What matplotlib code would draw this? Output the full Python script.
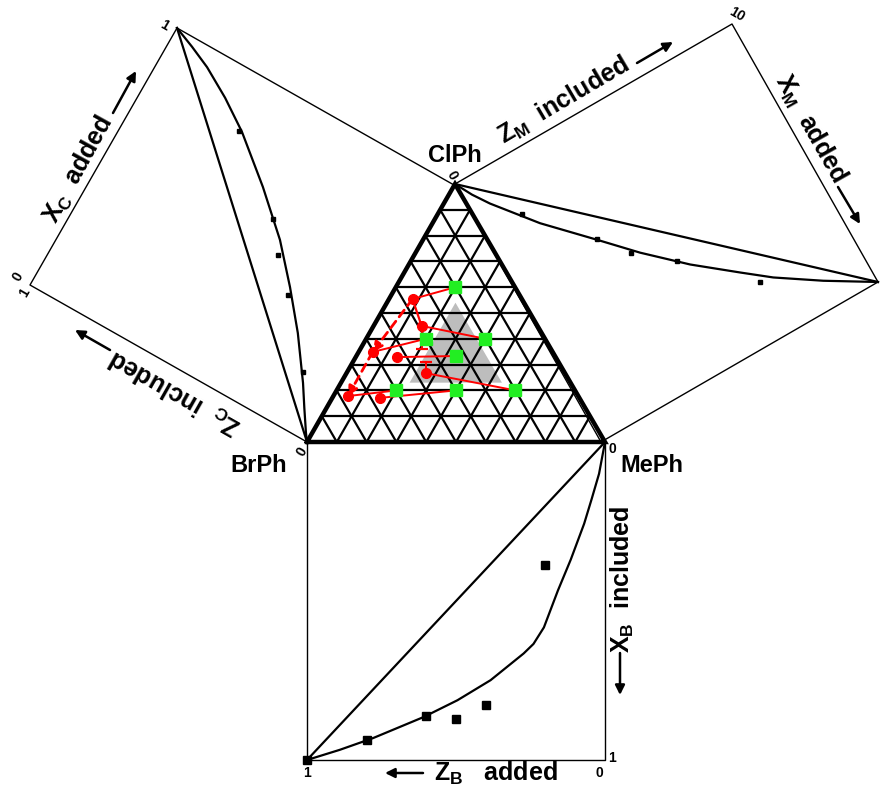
import numpy as np
import matplotlib.pyplot as plt
from matplotlib.transforms import Affine2D

plt.rcParams['font.family'] = ['Liberation Sans', 'DejaVu Sans']
plt.rcParams['mathtext.fontset'] = 'custom'
plt.rcParams['mathtext.rm'] = 'Liberation Sans:bold'
plt.rcParams['mathtext.it'] = 'Liberation Sans:bold'
plt.rcParams['mathtext.bf'] = 'Liberation Sans:bold'

# side panels, (Z, X) pairs
left_z = [0.67, 0.44, 0.37, 0.28, 0.12]
left_x = [0.8, 0.6, 0.5, 0.4, 0.2]
left_curve_z = [0, 0.017, 0.06, 0.103, 0.195, 0.288, 0.389, 0.518, 0.661, 0.76, 0.857, 0.93, 1]
left_curve_x = [0, 0.025, 0.095, 0.167, 0.305, 0.427, 0.549, 0.676, 0.803, 0.875, 0.935, 0.97, 1]

right_z = [0.138, 0.302, 0.372, 0.484, 0.680]
right_x = [0.2, 0.4, 0.5, 0.6, 0.8]
right_curve_z = [0, 0.03, 0.065, 0.171, 0.301, 0.398, 0.516, 0.640, 0.722, 0.853, 1]
right_curve_x = [0, 0.06, 0.116, 0.258, 0.403, 0.513, 0.632, 0.740, 0.810, 0.904, 1]

bottom_z = [0.2, 0.4, 0.5, 0.6, 0.8, 1.0]
bottom_x = [0.386, 0.828, 0.871, 0.862, 0.937, 1.0]
bottom_curve_z = [0, 0.02, 0.045, 0.07, 0.115, 0.158, 0.205, 0.24, 0.273, 0.384, 0.495, 0.609, 0.778, 0.89, 1]
bottom_curve_x = [0, 0.10, 0.18, 0.257, 0.37, 0.467, 0.583, 0.635, 0.665, 0.749, 0.812, 0.865, 0.931, 0.968, 1]

# ternary: fractions of MePh (m) and ClPh (c), BrPh = 1 - m - c
green_m = [0.2, 0.2, 0.4, 1/3, 0.2, 0.4, 0.6]
green_c = [0.6, 0.4, 0.4, 1/3, 0.2, 0.2, 0.2]
red_m = [0.079, 0.161, 0.047, 0.137, 0.266, 0.049, 0.160]
red_c = [0.554, 0.450, 0.349, 0.329, 0.267, 0.178, 0.171]
tie_to = [0, 2, 1, 3, 6, 4, 5]
path_idx = [0, 2, 5]          # dashed path through red points
err_idx = [1, 4]               # red points with error bars
err_dc = [-0.09, 0.045]
lower_bound = 0.23             # shaded region

fig = plt.figure(figsize=(8.83, 7.85), dpi=100)
ax = fig.add_axes([0, 0, 1, 1])
ax.set_xlim(0, 883)
ax.set_ylim(785, 0)
ax.axis('off')

tern = Affine2D.from_values(298, 0, 148, -258, 307, 442)
panels = {
    'left': Affine2D.from_values(-277, -157, 147, -257, 307, 442),
    'right': Affine2D.from_values(277, -160, 146, 258, 455, 184),
    'bottom': Affine2D.from_values(-298, 0, 0, 318, 605, 442),
}
panel_data = {
    'left': (left_z, left_x, left_curve_z, left_curve_x, 3.5),
    'right': (right_z, right_x, right_curve_z, right_curve_x, 3.5),
    'bottom': (bottom_z, bottom_x, bottom_curve_z, bottom_curve_x, 6),
}

for name, aff in panels.items():
    z, x, cz, cx, ms = panel_data[name]
    box = aff.transform([[0, 0], [1, 0], [1, 1], [0, 1], [0, 0]])
    ax.plot(box[:, 0], box[:, 1], color='k', lw=1.0)
    diag = aff.transform([[0, 0], [1, 1]])
    ax.plot(diag[:, 0], diag[:, 1], color='k', lw=1.6)
    cur = aff.transform(np.column_stack([cz, cx]))
    ax.plot(cur[:, 0], cur[:, 1], color='k', lw=1.6, solid_joinstyle='round')
    pts = aff.transform(np.column_stack([z, x]))
    ax.plot(pts[:, 0], pts[:, 1], 's', color='k', ms=ms, ls='none')

# shaded region
lb = lower_bound
shade = tern.transform([[lb, lb], [1 - 2 * lb, lb], [lb, 1 - 2 * lb]])
ax.fill(shade[:, 0], shade[:, 1], color='#bdbdbd', lw=0, zorder=1)

# ternary grid
for k in range(1, 10):
    t = k / 10
    for seg in ([[0, t], [1 - t, t]], [[t, 0], [t, 1 - t]], [[1 - t, 0], [0, 1 - t]]):
        p = tern.transform(seg)
        ax.plot(p[:, 0], p[:, 1], color='k', lw=1.6, zorder=2)
tri = tern.transform([[0, 0], [1, 0], [0, 1], [0, 0]])
ax.plot(tri[:, 0], tri[:, 1], color='k', lw=3.2, zorder=3, solid_joinstyle='miter')

red = tern.transform(np.column_stack([red_m, red_c]))
green = tern.transform(np.column_stack([green_m, green_c]))
for i, g in enumerate(tie_to):
    ax.plot([red[i, 0], green[g, 0]], [red[i, 1], green[g, 1]], color='red', lw=1.4, zorder=4)
ax.plot(red[:2, 0], red[:2, 1], color='red', lw=1.6, zorder=4)
for a, b in zip(path_idx[:-1], path_idx[1:]):
    ax.annotate('', xy=red[b], xytext=red[a],
                arrowprops=dict(arrowstyle='-|>', ls=(0, (3, 2)), color='red', lw=2.0,
                                mutation_scale=14, shrinkA=0, shrinkB=0), zorder=4)
for i, dc in zip(err_idx, err_dc):
    yend = tern.transform([[red_m[i], red_c[i] + dc]])[0, 1]
    ax.plot([red[i, 0], red[i, 0]], [red[i, 1], yend], color='red', lw=1.4, zorder=4)
    ax.plot(red[i, 0], yend, marker='_', color='red', ms=8, mew=1.6, zorder=4)
ax.plot(red[:, 0], red[:, 1], 'o', color='red', ms=7, zorder=5)
ax.plot(green[:, 0], green[:, 1], 's', color='#22ee22', ms=9, zorder=6)

# component names
for txt, xy in [('ClPh', (455, 156)), ('BrPh', (259, 466)), ('MePh', (652, 466))]:
    ax.text(*xy, txt, fontsize=17, fontweight='bold', ha='center', va='center')

# axis titles
labels = [
    (r'X$_\mathregular{C}$  added', (79, 170), 61.2),
    (r'Z$_\mathregular{C}$  included', (176, 392), 150.4),
    (r'Z$_\mathregular{M}$  included', (564, 101), 30.5),
    (r'X$_\mathregular{M}$  added', (810, 129), -60.5),
    (r'X$_\mathregular{B}$  included', (622, 579), 90),
    (r'Z$_\mathregular{B}$   added', (496, 773), 0),
]
for txt, xy, rot in labels:
    ax.text(*xy, txt, fontsize=18, fontweight='bold', ha='center', va='center',
            rotation=rot, rotation_mode='anchor')

arrows = [((113, 113), (136, 71)), ((110, 350), (75, 330)), ((637, 63), (673, 42)),
          ((838, 187), (860, 224)), ((620, 653), (620, 695)), ((423, 773), (385, 773))]
for start, end in arrows:
    ax.annotate('', xy=end, xytext=start,
                arrowprops=dict(arrowstyle='-|>', color='k', lw=1.8, mutation_scale=14,
                                shrinkA=0, shrinkB=0))

# corner ticks
ticks = [('1', (164, 25), -30), ('0', (18, 277), 60), ('1', (25, 293), 60),
         ('0', (302, 452), 60), ('0', (452, 175), -60), ('10', (737, 14), -30),
         ('0', (612, 449), 0), ('1', (307, 773), 0), ('0', (599, 773), 0), ('1', (612, 758), 0)]
for txt, xy, rot in ticks:
    ax.text(*xy, txt, fontsize=10, fontweight='bold', ha='center', va='center', rotation=rot)

plt.savefig('out.png', dpi=100)
